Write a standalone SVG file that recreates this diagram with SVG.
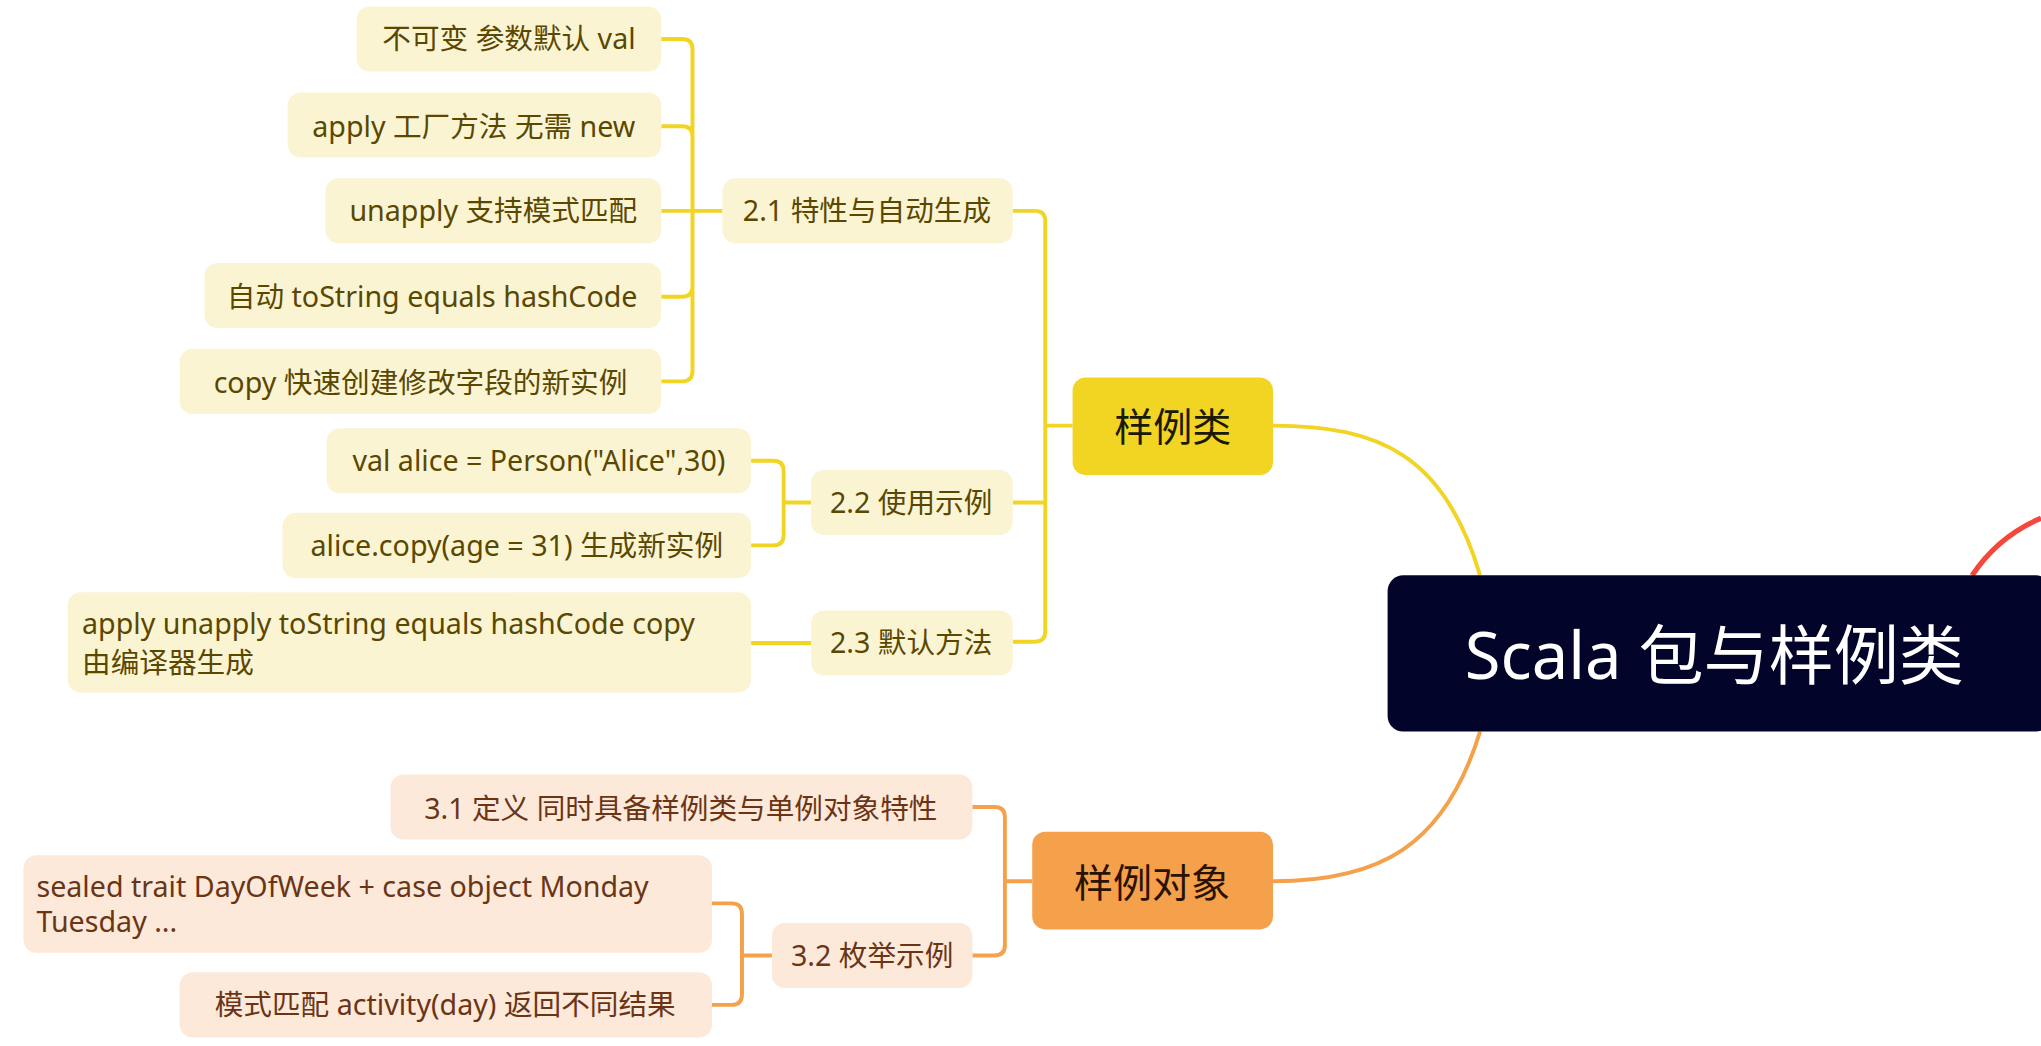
<svg xmlns="http://www.w3.org/2000/svg" width="2041" height="1046" viewBox="0 0 2041 1046">
<style>
text{font-family:"Noto Sans","Noto Sans CJK SC",sans-serif}
.y rect{fill:#fbf4d3}
.y text{fill:#5a4800;font-size:22px}
.o rect{fill:#fce9da}
.o text{fill:#6b3515;font-size:22px}
.cy{stroke:#f2d422;stroke-width:3;fill:none}
.co{stroke:#f5a04a;stroke-width:3;fill:none}
</style>
<rect width="2041" height="1046" fill="#fff"/>
<g transform="scale(1.3017)">
<g id="connectors">
<path d="M1515,442 Q1535,412 1568,398" stroke="#f5473a" stroke-width="4" fill="none"/>
<path class="cy" d="M1137,442 C1110,350 1060,327 978,327" stroke-width="4"/>
<path class="co" d="M1137,562 C1110,650 1060,677 978,677" stroke-width="4"/>
<path class="cy" d="M824,327 H803 M778,162 H795 Q803,162 803,170 V485 Q803,493 795,493 H778 M778,386 H803"/>
<path class="cy" d="M555,162 H508 M508,30 H524 Q532,30 532,38 V285 Q532,293 524,293 H508 M508,97 H524 Q532,97 532,105 M508,228 H524 Q532,228 532,220"/>
<path class="cy" d="M623,386 H602 M577,354 H594 Q602,354 602,362 V411 Q602,419 594,419 H577"/>
<path class="cy" d="M577,494 H623"/>
<path class="co" d="M793,677 H772 M747,620 H764 Q772,620 772,628 V726 Q772,734 764,734 H747"/>
<path class="co" d="M593,734 H570 M547,694 H562 Q570,694 570,702 V764 Q570,772 562,772 H547"/>
</g>
<g id="root"><rect x="1066" y="442" width="510" height="120" rx="12" fill="#02042a"/><text x="1317" y="522" font-size="50" fill="#fff" text-anchor="middle">Scala 包与样例类</text></g>
<g id="n1"><rect x="824" y="290" width="154" height="75" rx="10" fill="#f2d422"/><text x="901" y="339" font-size="30" fill="#1a1a00" text-anchor="middle">样例类</text></g>
<g id="n2"><rect x="793" y="639" width="185" height="75" rx="10" fill="#f5a04a"/><text x="885" y="689" font-size="30" fill="#2a1200" text-anchor="middle">样例对象</text></g>
<g class="y" text-anchor="middle">
<g id="n21"><rect x="555" y="137" width="223" height="50" rx="10"/><text x="666" y="170">2.1 特性与自动生成</text></g>
<g id="n211"><rect x="274" y="5" width="234" height="50" rx="10"/><text x="391" y="38">不可变 参数默认 val</text></g>
<g id="n212"><rect x="221" y="71" width="287" height="50" rx="10"/><text x="364" y="105">apply 工厂方法 无需 new</text></g>
<g id="n213"><rect x="250" y="137" width="258" height="50" rx="10"/><text x="379" y="170">unapply 支持模式匹配</text></g>
<g id="n214"><rect x="157" y="202" width="351" height="50" rx="10"/><text x="332" y="236">自动 toString equals hashCode</text></g>
<g id="n215"><rect x="138" y="268" width="370" height="50" rx="10"/><text x="323" y="302">copy 快速创建修改字段的新实例</text></g>
<g id="n22"><rect x="623" y="361" width="155" height="50" rx="10"/><text x="700" y="394">2.2 使用示例</text></g>
<g id="n221"><rect x="251" y="329" width="326" height="50" rx="10"/><text x="414" y="362">val alice = Person("Alice",30)</text></g>
<g id="n222"><rect x="217" y="394" width="360" height="50" rx="10"/><text x="397" y="427">alice.copy(age = 31) 生成新实例</text></g>
<g id="n23"><rect x="623" y="469" width="155" height="50" rx="10"/><text x="700" y="502">2.3 默认方法</text></g>
<g id="n231"><rect x="52" y="455" width="525" height="77" rx="10"/><text x="63" y="487" text-anchor="start">apply unapply toString equals hashCode copy</text><text x="63" y="517" text-anchor="start">由编译器生成</text></g>
</g>
<g class="o" text-anchor="middle">
<g id="n31"><rect x="300" y="595" width="447" height="50" rx="10"/><text x="523" y="629">3.1 定义 同时具备样例类与单例对象特性</text></g>
<g id="n32"><rect x="593" y="709" width="154" height="50" rx="10"/><text x="670" y="742">3.2 枚举示例</text></g>
<g id="n321"><rect x="18" y="657" width="529" height="75" rx="10"/><text x="28" y="689" text-anchor="start">sealed trait DayOfWeek + case object Monday</text><text x="28" y="716" text-anchor="start">Tuesday ...</text></g>
<g id="n322"><rect x="138" y="747" width="409" height="50" rx="10"/><text x="342" y="780">模式匹配 activity(day) 返回不同结果</text></g>
</g>
</g>
</svg>
